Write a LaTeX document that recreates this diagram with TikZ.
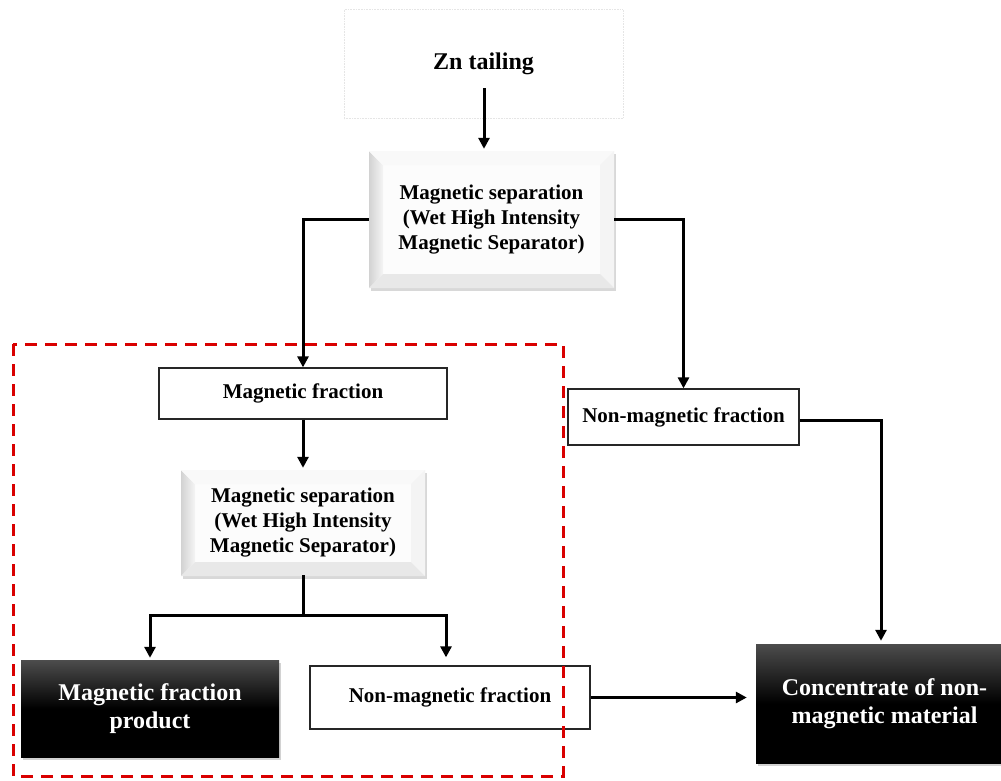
\documentclass[tikz,border=0pt]{standalone}
\usepackage{fontspec}
\setmainfont{Liberation Serif}
\usetikzlibrary{arrows.meta,shadows,calc}
\begin{document}
\begin{tikzpicture}[x=1pt,y=-1pt,
  lbl/.style={font=\bfseries\fontsize{21}{25}\selectfont, align=center, inner sep=0pt, rectangle},
  plainbox/.style={lbl, draw=black!85, line width=1.3pt, fill=white},
  darkbox/.style={rectangle, font=\bfseries\fontsize{24}{28}\selectfont, text=white, align=center, inner sep=0pt,
    top color=black!70, bottom color=black, middle color=black,
    drop shadow={shadow xshift=1.5pt, shadow yshift=-3pt, opacity=0.35}},
  bevelbox/.style={lbl, fill=gray!2,
    drop shadow={shadow xshift=1.5pt, shadow yshift=-3pt, opacity=0.3},
    path picture={
      \path (path picture bounding box.north west) coordinate (pnw)
            (path picture bounding box.north east) coordinate (pne)
            (path picture bounding box.south west) coordinate (psw)
            (path picture bounding box.south east) coordinate (pse);
      \shade[left color=gray!35, right color=gray!8] (pnw) -- (psw) -- ($(psw)+(14pt,14pt)$) -- ($(pnw)+(14pt,-14pt)$) -- cycle;
      \fill[gray!5] (pnw) -- (pne) -- ($(pne)+(-14pt,-14pt)$) -- ($(pnw)+(14pt,-14pt)$) -- cycle;
      \fill[gray!9] (pne) -- (pse) -- ($(pse)+(-14pt,14pt)$) -- ($(pne)+(-14pt,-14pt)$) -- cycle;
      \fill[gray!18] (psw) -- (pse) -- ($(pse)+(-14pt,14pt)$) -- ($(psw)+(14pt,14pt)$) -- cycle;
    }},
  conn/.style={line width=3pt, line cap=rect},
  arr/.style={line width=3pt, -{Triangle[length=11pt,width=11pt]}},
  redframe/.style={draw=red!85!black, line width=3pt, dash pattern=on 12pt off 8pt}
]
\useasboundingbox (0,0) rectangle (1001,780);
\clip (0,0) rectangle (1001,780);
\fill[white] (0,0) rectangle (1001,780);

% nodes
\node[lbl, font=\bfseries\fontsize{24}{28}\selectfont, draw=black!10, line width=0.6pt, densely dotted,
      minimum width=279pt, minimum height=109pt] (zn) at (483.5,64) {Zn tailing};
\node[bevelbox, minimum width=245pt, minimum height=137pt] (ms1) at (491.5,219.5)
  {Magnetic separation\\(Wet High Intensity\\Magnetic Separator)};
\node[plainbox, minimum width=288pt, minimum height=51pt] (mf) at (303,393.5) {Magnetic fraction};
\node[bevelbox, minimum width=244pt, minimum height=106pt] (ms2) at (303,523)
  {Magnetic separation\\(Wet High Intensity\\Magnetic Separator)};
\node[plainbox, minimum width=231pt, minimum height=56pt] (nm1) at (683.5,417) {Non-magnetic fraction};
\node[darkbox, minimum width=258pt, minimum height=97pt] (mfp) at (150,708.5) {Magnetic fraction\\product};
\node[plainbox, minimum width=280pt, minimum height=63pt] (nm2) at (450,697.5) {Non-magnetic fraction};
\node[darkbox, minimum width=257pt, minimum height=119pt] (conc) at (884.5,703.5) {Concentrate of non-\\magnetic material};

\coordinate (znout) at (484,88);
\coordinate (split) at (303,615);

% connectors
\draw[arr, shorten >=2pt] (znout) -- (znout |- ms1.north);
\draw[arr] (ms1.west) -| (mf.north);
\draw[arr] (ms1.east) -| (nm1.north);
\draw[arr, shorten >=2pt] (mf.south) -- (ms2.north);
\draw[conn] (ms2.south) -- (split);
\draw[arr, shorten >=2pt] (split) -| (mfp.north);
\draw[arr, shorten >=8pt] (split) -| ([xshift=-4pt]nm2.north);
\draw[arr, shorten >=3pt] ([yshift=-3pt]nm1.east) -| ([xshift=-3.5pt]conc.north);
\draw[arr, shorten >=9pt] (nm2.east) -- (nm2.east -| conc.west);

% dashed frame
\draw[redframe] (13,344) rectangle (563,776);
\end{tikzpicture}
\end{document}
